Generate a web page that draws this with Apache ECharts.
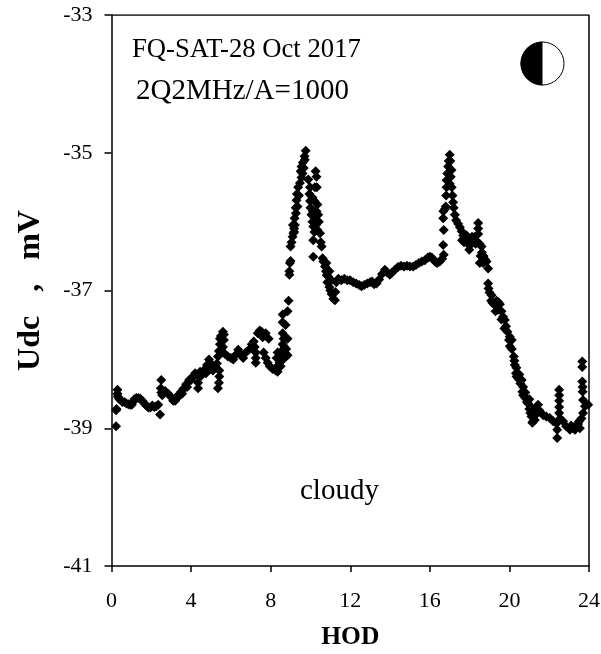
<!DOCTYPE html>
<html>
<head>
<meta charset="utf-8">
<script src="https://cdn.jsdelivr.net/npm/echarts@6/dist/echarts.min.js"></script>
<style>
html, body { margin: 0; padding: 0; background: #fff; }
#chart { width: 601px; height: 654px; }
</style>
</head>
<body>
<div id="chart"></div>
<script>
const xTicks = [0, 4, 8, 12, 16, 20, 24];
const yTicks = [-41, -39, -37, -35, -33];

// [HOD, Udc]
const morning = [
  [0.23,-38.97],[0.23,-38.74],[0.25,-38.72],[0.3,-38.44],[0.3,-38.5],[0.32,-38.54],[0.38,-38.57],[0.45,-38.59],[0.55,-38.62],[0.65,-38.62],
  [0.75,-38.64],[0.85,-38.65],[0.95,-38.66],[1.02,-38.66],[1.08,-38.62],[1.15,-38.58],[1.25,-38.56],[1.35,-38.56],[1.45,-38.57],[1.55,-38.6],
  [1.65,-38.64],[1.75,-38.67],[1.85,-38.7],[1.95,-38.7],[2.05,-38.67],[2.15,-38.69],[2.25,-38.68],[2.35,-38.66],[2.44,-38.8],[2.5,-38.3],
  [2.48,-38.42],[2.5,-38.48],[2.55,-38.52],[2.7,-38.46],[2.85,-38.5],[3.0,-38.55],[3.1,-38.6],[3.2,-38.6],[3.35,-38.52],[3.5,-38.47],
  [3.6,-38.43],[3.75,-38.36],[3.9,-38.3],[4.05,-38.26],[4.15,-38.24],[4.3,-38.22],[4.35,-38.42],[4.35,-38.34],[4.45,-38.18],[4.6,-38.2],
  [4.7,-38.14],[4.8,-38.08],[4.9,-38.0],[5.0,-38.06],[5.1,-38.16],[5.2,-38.12],[5.35,-38.42],[5.4,-38.34],[5.42,-38.25],[5.42,-38.16],
  [3.3,-38.56],[3.55,-38.5],[3.8,-38.4],[4.0,-38.3],[4.2,-38.2],[4.5,-38.24],[4.75,-38.2],[4.95,-38.14],[5.15,-38.1],[5.3,-38.06]
];
const rise = [
  [5.35,-37.96],[5.4,-37.88],[5.45,-37.78],[5.45,-37.7],[5.5,-37.66],[5.6,-37.6],[5.65,-37.64],[5.65,-37.72],[5.6,-37.82],[5.55,-37.9],
  [5.7,-37.92],[5.85,-37.96],[6.0,-37.98],[6.12,-38.0],[6.22,-37.94],[6.37,-37.86],[6.5,-37.94],[6.62,-37.98],[6.75,-37.9],[6.9,-37.86],
  [7.05,-37.78],[7.15,-37.74],[7.2,-37.82],[7.25,-37.9],[7.25,-38.05],[7.25,-37.98],[7.35,-37.62],[7.45,-37.58],[7.55,-37.6],[7.6,-37.68],
  [7.75,-37.62],[7.9,-37.7],[7.65,-37.9],[7.75,-37.98],[7.85,-38.05],[7.95,-38.1],[8.1,-38.14],[8.25,-38.16],[8.35,-38.18],[8.3,-37.98],
  [8.35,-37.9],[8.45,-38.05],[8.5,-37.95],[8.55,-37.88],[8.6,-37.78],[8.65,-37.7],[8.7,-37.82],[8.75,-37.92],[8.85,-37.94],[8.85,-37.7],
  [8.6,-37.46],[8.6,-37.35],[8.75,-37.5],[8.85,-37.3],[8.9,-37.15],[8.94,-36.77],
  [8.4,-38.08],[8.5,-38.1],[8.6,-38.0],[8.7,-37.98],[8.78,-37.85],[8.6,-37.62],[8.72,-37.68]
];
const peakOne = [
  [8.94,-36.72],[8.97,-36.6],[9.0,-36.57],[9.0,-36.36],[9.05,-36.3],[9.1,-36.22],[9.14,-36.17],[9.18,-36.1],[9.22,-36.05],[9.18,-36.15],
  [9.27,-35.88],[9.26,-35.8],[9.3,-35.69],[9.32,-35.6],[9.38,-35.5],[9.47,-35.44],[9.51,-35.27],[9.55,-35.2],[9.62,-35.14],[9.7,-35.05],
  [9.76,-34.97],[9.72,-35.1],[9.66,-35.22],[9.6,-35.3],[9.89,-35.39],[9.98,-35.5],[9.95,-35.6],[9.98,-35.7],[10.0,-35.8],[10.05,-35.9],
  [10.1,-36.0],[10.14,-36.07],[10.14,-36.27],[10.14,-36.51],[10.2,-35.7],[10.26,-35.27],[10.3,-35.35],[10.32,-35.5],[10.35,-35.75],[10.39,-35.9],
  [10.42,-36.0],[10.48,-36.17],[10.52,-36.3],[10.56,-36.36],[10.61,-36.53],[10.65,-36.58],[10.73,-36.65],[10.78,-36.72],[10.82,-36.78],[10.9,-36.8],
  [10.85,-36.88],[10.95,-36.95],[11.0,-37.0],[11.06,-37.05],[11.15,-37.12],[11.23,-37.14],[11.25,-37.02],[11.3,-36.88],
  [9.12,-36.05],[9.2,-35.95],[9.35,-35.78],[9.42,-35.62],[9.55,-35.36],[10.12,-35.85],[10.22,-35.95],[10.28,-36.05],[10.3,-35.85],[10.2,-36.15],
  [10.35,-36.12],[10.1,-35.65],[10.22,-35.5],[10.8,-36.6],[10.95,-36.72],[11.05,-36.85]
];
const plateau = [
  [11.4,-36.83],[11.55,-36.85],[11.7,-36.83],[11.85,-36.85],[11.99,-36.85],[12.15,-36.88],[12.3,-36.9],[12.45,-36.92],[12.57,-36.94],[12.7,-36.92],
  [12.85,-36.9],[13.0,-36.88],[13.1,-36.87],[13.2,-36.91],[13.32,-36.9],[13.45,-36.84],[13.6,-36.76],[13.74,-36.7],[13.85,-36.74],[13.99,-36.77],
  [14.1,-36.74],[14.25,-36.7],[14.4,-36.66],[14.55,-36.64],[14.7,-36.65],[14.85,-36.64],[15.0,-36.65],[15.16,-36.65],[15.3,-36.63],[15.45,-36.6],
  [15.6,-36.58],[15.75,-36.56],[15.9,-36.52],[16.0,-36.51],[16.1,-36.52],[16.2,-36.56],[16.3,-36.59],[16.37,-36.6],[16.5,-36.58],[16.62,-36.54]
];
const peakTwo = [
  [16.7,-36.48],[16.67,-36.34],[16.7,-36.12],[16.67,-35.95],[16.68,-35.85],[16.75,-35.82],[16.8,-35.78],[16.82,-35.62],[16.84,-35.5],[16.84,-35.4],
  [16.88,-35.3],[16.92,-35.2],[16.95,-35.12],[17.0,-35.03],[17.03,-35.12],[17.09,-35.25],[17.05,-35.35],[17.0,-35.45],[17.1,-35.5],[17.14,-35.62],
  [17.17,-35.72],[17.2,-35.8],[17.26,-35.9],[17.32,-35.98],[17.42,-36.03],[17.51,-36.08],[17.6,-36.14],[17.68,-36.2],[17.62,-36.27],[17.72,-36.3],
  [17.85,-36.2],[17.98,-36.41],[18.0,-36.25],[18.12,-36.22],[18.26,-36.22],[18.4,-36.3],[18.43,-36.02],[18.43,-36.1],[18.43,-36.18],[18.5,-36.32],
  [18.6,-36.36],[18.62,-36.45],[18.51,-36.6],[18.55,-36.5],[18.7,-36.5],[18.78,-36.55],[18.85,-36.58],[18.93,-36.68],
  [17.75,-36.22],[17.9,-36.32],[18.1,-36.32],[18.3,-36.32],[18.68,-36.6]
];
const evening = [
  [18.93,-36.9],[18.95,-36.97],[19.0,-37.03],[19.1,-37.07],[19.08,-37.15],[19.15,-37.18],[19.27,-37.21],[19.35,-37.15],[19.45,-37.17],[19.52,-37.2],
  [19.6,-37.3],[19.68,-37.38],[19.77,-37.43],[19.83,-37.52],[19.9,-37.6],[20.02,-37.67],[19.98,-37.72],[20.02,-37.81],[20.12,-37.72],[20.22,-37.96],
  [20.25,-38.02],[20.27,-38.08],[20.33,-38.2],[20.36,-38.25],[20.45,-38.28],[20.55,-38.35],[20.69,-38.4],[20.65,-38.47],[20.69,-38.52],[20.8,-38.56],
  [20.88,-38.62],[20.94,-38.64],[21.0,-38.72],[21.05,-38.78],[21.11,-38.83],[21.19,-38.9],[21.25,-38.82],[21.32,-38.74],[21.44,-38.66],[21.5,-38.74],
  [21.6,-38.78],[21.7,-38.81],[21.85,-38.83],[22.03,-38.85],[22.2,-38.9],[22.37,-38.93],[22.4,-39.02],[22.4,-39.14],[22.5,-38.44],[22.5,-38.52],
  [22.5,-38.6],[22.5,-38.69],[22.5,-38.78],[22.55,-38.86],[22.7,-38.9],[22.85,-38.97],[23.04,-39.02],[23.2,-39.0],[23.37,-38.95],[23.54,-39.0],
  [23.5,-38.9],[23.62,-38.86],[23.7,-38.78],[23.66,-38.03],[23.66,-38.11],[23.66,-38.32],[23.68,-38.4],[23.68,-38.47],[23.7,-38.59],[23.8,-38.68],
  [23.96,-38.66],
  [19.3,-37.3],[19.45,-37.28],[19.6,-37.42],[19.75,-37.55],[20.12,-37.85],[20.35,-38.12],[20.5,-38.22],[20.62,-38.3],[20.8,-38.48],[21.0,-38.58],
  [21.1,-38.7],[21.28,-38.88],[21.4,-38.78],[21.15,-38.92],[23.1,-38.96],[23.3,-39.02],[23.45,-38.94]
];

const chart = echarts.init(document.getElementById('chart'));
const serif = '"Liberation Serif", "Times New Roman", serif';

chart.setOption({
  animation: false,
  backgroundColor: '#fff',
  grid: { left: 111.5, right: 12, top: 15, height: 551, containLabel: false, outerBoundsMode: 'none' },
  xAxis: {
    type: 'value',
    min: 0,
    max: 24,
    interval: 4,
    name: 'HOD',
    nameLocation: 'middle',
    nameGap: 58,
    nameTextStyle: { fontFamily: serif, fontSize: 25.5, fontWeight: 'bold', color: '#000' },
    axisLine: { onZero: false, lineStyle: { color: '#000', width: 1.5 } },
    axisTick: { show: true, length: 6, lineStyle: { color: '#000', width: 1.5 } },
    axisLabel: { fontFamily: serif, fontSize: 22, color: '#000', margin: 24 },
    splitLine: { show: false }
  },
  yAxis: {
    type: 'value',
    min: -41,
    max: -33,
    interval: 2,
    name: 'Udc   ,   mV',
    nameLocation: 'middle',
    nameGap: 65,
    nameTextStyle: { fontFamily: serif, fontSize: 32, fontWeight: 'bold', color: '#000' },
    axisLine: { onZero: false, lineStyle: { color: '#000', width: 1.5 } },
    axisTick: { show: true, length: 7, lineStyle: { color: '#000', width: 1.5 } },
    axisLabel: { fontFamily: serif, fontSize: 22, color: '#000', margin: 19 },
    splitLine: { show: false }
  },
  series: [
    {
      type: 'scatter',
      symbol: 'diamond',
      symbolSize: 10,
      itemStyle: { color: '#000', opacity: 1 },
      data: [].concat(morning, rise, peakOne, plateau, peakTwo, evening)
    },
    // top and right edges of the box
    {
      type: 'line',
      symbol: 'none',
      silent: true,
      lineStyle: { color: '#000', width: 1.5 },
      data: [[0, -33], [24, -33], [24, -41]]
    }
  ],
  graphic: [
    { type: 'text', left: 132, top: 36, style: { text: 'FQ-SAT-28 Oct 2017', font: '26.7px ' + serif, fill: '#000' } },
    { type: 'text', left: 136, top: 77, style: { text: '2Q2MHz/A=1000', font: '29px ' + serif, fill: '#000' } },
    { type: 'text', left: 300, top: 477, style: { text: 'cloudy', font: '29px ' + serif, fill: '#000' } },
    { type: 'circle', shape: { cx: 542.5, cy: 63.5, r: 21.5 }, style: { fill: '#fff', stroke: '#000', lineWidth: 1 } },
    { type: 'sector', shape: { cx: 542.5, cy: 63.5, r: 22, r0: 0, startAngle: Math.PI / 2, endAngle: Math.PI * 1.5 }, style: { fill: '#000' } }
  ]
});
</script>
</body>
</html>
